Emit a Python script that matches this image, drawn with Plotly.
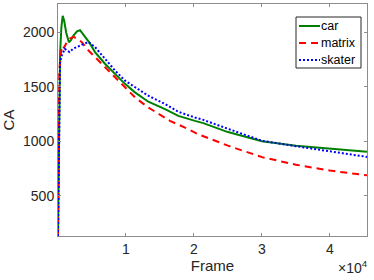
import plotly.graph_objects as go

car_frames = [0, 100, 300, 500, 690, 900, 1200, 1600, 1900, 2300, 2800, 3240, 3970, 4700, 5440, 6910, 8380, 9850, 11320, 13280, 15740, 17700, 20150, 21370, 25000, 30000, 35000, 40000, 45450]
car_ca = [130, 1000, 1800, 2050, 2154, 2110, 2000, 1910, 1930, 1975, 2010, 2021, 1959, 1900, 1820, 1713, 1620, 1528, 1450, 1364, 1296, 1234, 1188, 1167, 1085, 1000, 960, 935, 905]

matrix_frames = [0, 100, 200, 400, 600, 900, 1200, 1760, 2250, 2800, 3480, 4220, 5440, 6910, 8380, 9850, 11320, 13280, 16470, 18680, 20630, 25000, 30000, 35000, 40000, 45450]
matrix_ca = [130, 1000, 1650, 1800, 1880, 1860, 1900, 1944, 1960, 1945, 1913, 1852, 1774, 1682, 1589, 1496, 1404, 1311, 1188, 1126, 1065, 960, 855, 785, 731, 688]

skater_frames = [0, 100, 300, 500, 1000, 1280, 1700, 2250, 3240, 4200, 4460, 5440, 6910, 8380, 9850, 11320, 13280, 15740, 17700, 20150, 21370, 25000, 30000, 35000, 40000, 45450]
skater_ca = [130, 900, 1720, 1780, 1850, 1836, 1820, 1852, 1882, 1907, 1913, 1867, 1759, 1651, 1558, 1496, 1419, 1343, 1271, 1219, 1197, 1115, 1005, 955, 910, 857]

series_names = ["car", "matrix", "skater"]
series_colors = ["#008000", "#ff0000", "#0000ff"]
series_dashes = ["solid", "7px,5px", "2px,2px"]

x_tickvals = [10000, 20000, 30000, 40000]
x_ticktext = ["1", "2", "3", "4"]
y_tickvals = [500, 1000, 1500, 2000]

W, H = 374, 280
ML, MR, MT, MB = 58, 7, 4, 44
PW, PH = W - ML - MR, H - MT - MB


def px(x):
    return (x - ML) / PW


def py(y):
    return (H - MB - y) / PH


FONT = "Liberation Sans, Arial, sans-serif"
TXT = "#262626"

fig = go.Figure()
data = [(car_frames, car_ca), (matrix_frames, matrix_ca), (skater_frames, skater_ca)]
for (fx, fy), name, col, dash in zip(data, series_names, series_colors, series_dashes):
    fig.add_trace(go.Scatter(x=fx, y=fy, mode="lines", name=name, showlegend=False,
                             line=dict(color=col, width=2, dash=dash)))

axis_common = dict(showline=True, linecolor="#8c8c8c", linewidth=1, mirror="ticks",
                   ticks="inside", ticklen=3, tickcolor="#8c8c8c", showgrid=False,
                   zeroline=False, tickfont=dict(family=FONT, size=14, color=TXT))

fig.update_xaxes(range=[0, 45450], tickvals=x_tickvals, ticktext=x_ticktext,
                 title=dict(text="Frame", font=dict(family=FONT, size=15, color=TXT), standoff=0),
                 **axis_common)
fig.update_yaxes(range=[130, 2262], tickvals=y_tickvals,
                 title=dict(text="CA", font=dict(family=FONT, size=15, color=TXT), standoff=7),
                 **axis_common)

fig.add_annotation(x=px(369), y=py(277), xref="paper", yref="paper", xanchor="right", yanchor="bottom",
                   text="×10<sup>4</sup>", showarrow=False, borderpad=0,
                   font=dict(family=FONT, size=14, color=TXT))

# legend box (drawn manually to match the compact style)
fig.add_shape(type="rect", xref="paper", yref="paper",
              x0=px(296), x1=px(361), y0=py(68), y1=py(17),
              line=dict(color="#262626", width=1), fillcolor="white", layer="above")
legend_rows = [26, 43, 60]
for row_y, name, col, dash in zip(legend_rows, series_names, series_colors, series_dashes):
    fig.add_shape(type="line", xref="paper", yref="paper",
                  x0=px(299), x1=px(320), y0=py(row_y), y1=py(row_y),
                  line=dict(color=col, width=2, dash=dash), layer="above")
    fig.add_annotation(x=px(320), y=py(row_y), xref="paper", yref="paper",
                       xanchor="left", yanchor="middle", text=name, showarrow=False,
                       borderpad=0, font=dict(family=FONT, size=12.5, color="#000000"))

fig.update_layout(
    width=W, height=H,
    margin=dict(l=ML, r=MR, t=MT, b=MB),
    plot_bgcolor="white", paper_bgcolor="white",
    showlegend=False,
)

fig.write_html("out.html", config={"displayModeBar": False},
               post_script="document.body.style.margin='0';document.body.style.padding='0';")
